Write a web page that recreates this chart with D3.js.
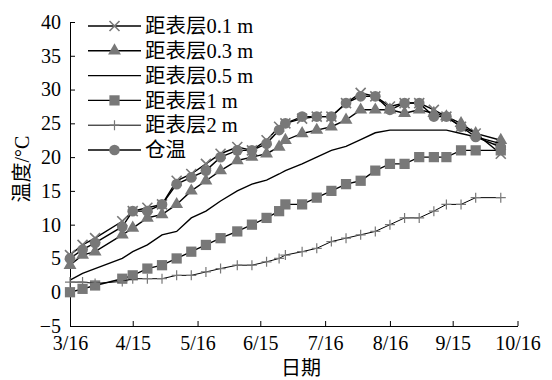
<!DOCTYPE html>
<html>
<head>
<meta charset="utf-8">
<script src="https://cdn.jsdelivr.net/npm/d3@7"></script>
<style>
    body { margin: 0; background: #fff; }
    text { font-family: "Liberation Serif", "Noto Sans CJK SC", serif; }
</style>
</head>
<body>
<svg id="chart" width="552" height="380"></svg>
<script>
// measurement dates (month/day)
let dates = ['3/16', '3/22', '3/28', '4/10', '4/15', '4/22', '4/29', '5/6', '5/13', '5/20',
    '5/27', '6/4', '6/11', '6/18', '6/24', '6/27', '7/5', '7/12', '7/19', '7/26',
    '8/2', '8/9', '8/16', '8/23', '8/30', '9/6', '9/12', '9/19', '9/26', '10/8']

let depth01 = [5.5, 7, 8, 10.5, 12, 12.5, 13, 16.5, 17.5, 19,
    20.5, 21.5, 21, 22.5, 24.5, 25, 25.7, 26, 26, 28,
    29.5, 29, 27.5, 28, 28, 27, 26, 24.5, 23.5, 20.5]
let depth03 = [4, 5.5, 6, 8.5, 9.5, 11, 11.5, 13, 15, 16.5,
    18, 19.5, 20, 20.5, 21.5, 22.5, 23.5, 24, 24.5, 25.5,
    27, 27, 27, 26.5, 27, 26.5, 26, 25, 23.5, 22.5]
let depth05 = [1.8, 2.8, 3.5, 5, 6, 7, 8.5, 9, 11, 12,
    13.5, 15, 16, 16.6, 17.5, 18, 19, 20, 21, 21.6,
    22.6, 23.6, 24, 24, 24, 24, 24, 23.5, 23, 22]
let depth1 = [0, 0.5, 1, 2, 2.5, 3.5, 4, 5, 6, 7,
    8, 9, 10, 11, 12, 13, 13, 14, 15, 16,
    16.5, 18, 19, 19, 20, 20, 20, 21, 21, 21]
let depth2 = [1.5, 1.5, 1.3, 1.6, 2, 2, 2, 2.5, 2.5, 3,
    3.5, 4, 4, 4.5, 5, 5.5, 6, 6.5, 7.5, 8,
    8.5, 9, 10, 11, 11, 12, 13, 13, 14, 14]
let barnTemp = [5, 6.3, 7.3, 9.7, 12, 12, 13, 16, 17, 18,
    20, 21, 21, 22, 24, 25, 26, 26, 26, 28,
    29, 29, 27, 28, 28, 26, 26, 24.5, 23, 21.5]

let seriesNames = ['距表层0.1 m', '距表层0.3 m', '距表层0.5 m', '距表层1 m', '距表层2 m', '仓温']
let seriesValues = [depth01, depth03, depth05, depth1, depth2, barnTemp]
let seriesMarkers = ['x', 'triangle', 'none', 'square', 'plus', 'circle']

let xTickLabels = ['3/16', '4/15', '5/16', '6/15', '7/16', '8/16', '9/15', '10/16']
let yTicks = [-5, 0, 5, 10, 15, 20, 25, 30, 35, 40]

function main() {
    let svg = d3.select('#chart'),
        margin = {top: 22, bottom: 54, left: 70, right: 34.5},
        width = svg.attr('width') - margin.left - margin.right,
        height = svg.attr('height') - margin.top - margin.bottom

    let parse = s => {
        let p = s.split('/')
        return new Date(2014, +p[0] - 1, +p[1])
    }

    let xScale = d3.scaleTime()
            .range([margin.left, margin.left + width])
            .domain([parse('3/16'), parse('10/16')]),
        yScale = d3.scaleLinear()
            .range([margin.top + height, margin.top])
            .domain([-5, 40])

    let markerColor = '#787878'

    // x axis at the bottom (value -5)
    let xAxis = svg.append('g')
        .attr('transform', 'translate(0, ' + (margin.top + height) + ')')
        .call(d3.axisBottom(xScale)
            .tickValues(xTickLabels.map(parse))
            .tickFormat((d, i) => xTickLabels[i])
            .tickSizeInner(-5).tickSizeOuter(0).tickPadding(10))
    xAxis.selectAll('text').attr('font-size', 20).attr('fill', '#000')

    let yAxis = svg.append('g')
        .attr('transform', 'translate(' + margin.left + ', 0)')
        .call(d3.axisLeft(yScale)
            .tickValues(yTicks)
            .tickFormat(d => d < 0 ? '\u2212' + Math.abs(d) : d)
            .tickSizeInner(-5).tickSizeOuter(0).tickPadding(9))
    yAxis.selectAll('text').attr('font-size', 20).attr('fill', '#000')

    svg.selectAll('.domain, .tick line').attr('stroke', '#000')

    function drawMarker(g, type) {
        if (type === 'x') {
            g.append('path')
                .attr('d', 'M-5,-5L5,5M-5,5L5,-5')
                .attr('stroke', markerColor).attr('stroke-width', 1.6).attr('fill', 'none')
        } else if (type === 'plus') {
            g.append('path')
                .attr('d', 'M-5,0L5,0M0,-5L0,5')
                .attr('stroke', markerColor).attr('stroke-width', 1.2).attr('fill', 'none')
        } else if (type !== 'none') {
            let sym = {triangle: d3.symbolTriangle, square: d3.symbolSquare, circle: d3.symbolCircle}[type]
            let area = {triangle: 72, square: 105, circle: 90}[type]
            g.append('path')
                .attr('d', d3.symbol().type(sym).size(area)())
                .attr('fill', markerColor)
        }
    }

    let line = d3.line()
        .x((d, i) => xScale(parse(dates[i])))
        .y(d => yScale(d))

    seriesValues.forEach((values, s) => {
        svg.append('path')
            .datum(values)
            .attr('fill', 'none')
            .attr('stroke', '#000')
            .attr('stroke-width', s === 4 ? 1 : 1.4)
            .attr('d', line)

        svg.selectAll('.mk' + s)
            .data(values)
            .enter()
            .append('g')
            .attr('class', 'mk' + s)
            .attr('transform', (d, i) => 'translate(' + xScale(parse(dates[i])) + ',' + yScale(d) + ')')
            .each(function () { drawMarker(d3.select(this), seriesMarkers[s]) })
    })

    // legend in the upper left of the plot
    let legend = svg.append('g')
    seriesNames.forEach((name, i) => {
        let y = 26 + i * 24.8
        legend.append('line')
            .attr('x1', 88).attr('x2', 141)
            .attr('y1', y).attr('y2', y)
            .attr('stroke', '#000').attr('stroke-width', i === 4 ? 1 : 1.4)
        let mg = legend.append('g').attr('transform', 'translate(114.5,' + y + ')')
        drawMarker(mg, seriesMarkers[i])
        legend.append('text')
            .attr('x', 145)
            .attr('y', y)
            .attr('dy', '0.35em')
            .attr('font-size', 20.5)
            .text(name)
    })

    svg.append('text')
        .attr('text-anchor', 'middle')
        .attr('transform', 'translate(29,169) rotate(-90)')
        .attr('font-size', 20)
        .text('温度/°C')

    svg.append('text')
        .attr('text-anchor', 'middle')
        .attr('x', 301)
        .attr('y', 375)
        .attr('font-size', 20)
        .text('日期')
}

main()
</script>
</body>
</html>
